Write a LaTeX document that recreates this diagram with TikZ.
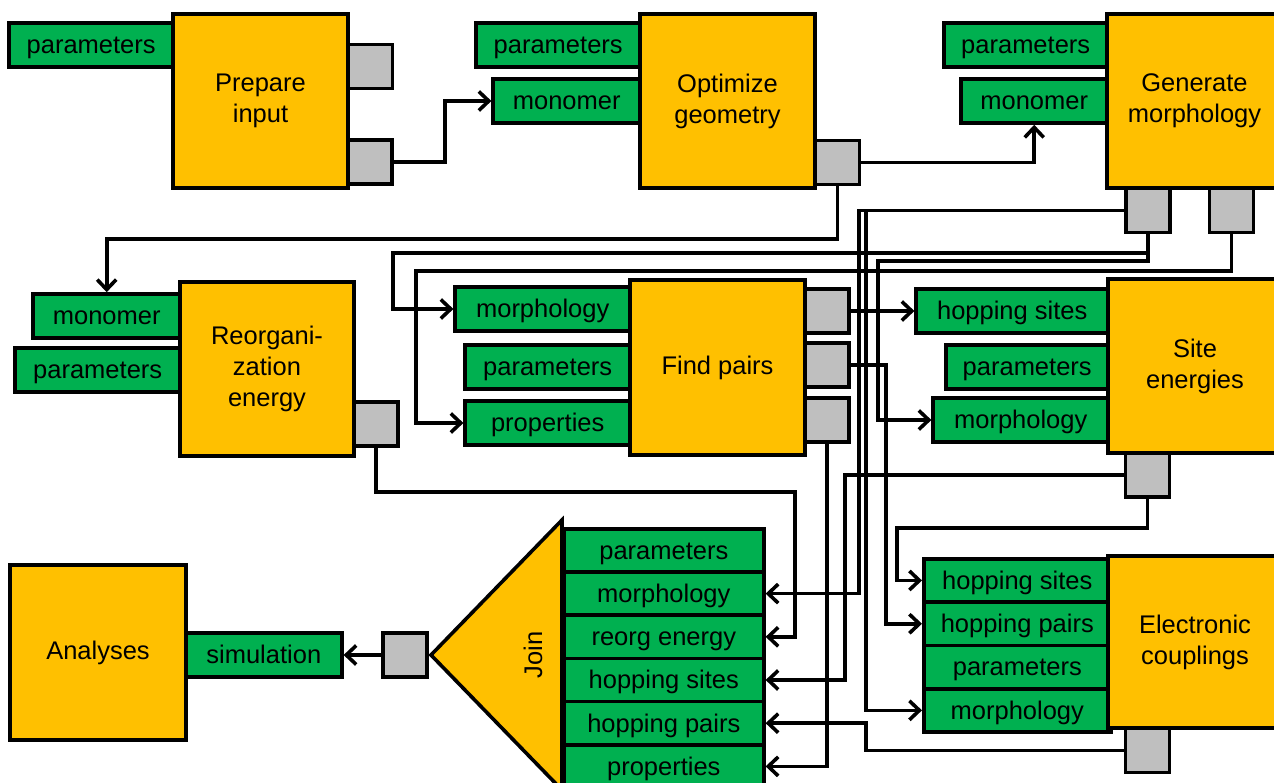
\documentclass[tikz,border=0pt]{standalone}
\usepackage{fontspec}
\setmainfont{Liberation Sans}
\usetikzlibrary{arrows.meta}
\definecolor{procY}{HTML}{FFC000}
\definecolor{inG}{HTML}{00B050}
\definecolor{portG}{HTML}{BFBFBF}
\newcommand\lab{\fontsize{25.5}{31}\selectfont}
\begin{document}
\begin{tikzpicture}[x=1pt,y=-1pt,
  proc/.style={draw, line width=3.6pt, fill=procY, inner sep=0pt, align=center, font=\lab},
  inbox/.style={draw, line width=3.6pt, fill=inG, inner sep=0pt, minimum height=44pt, font=\lab, text height=23pt, text depth=5.4pt},
  portbox/.style={draw, line width=3.6pt, fill=portG, minimum width=44pt, minimum height=44pt, inner sep=0pt},
  wire/.style={line width=3.6pt},
  arr/.style={wire, -{Straight Barb[length=10pt,width=19pt]}},
  rowJ/.style={inbox, anchor=north west, minimum width=200pt, minimum height=43.2pt},
  rowE/.style={inbox, anchor=north west, minimum width=187pt, minimum height=43.3pt}]
\useasboundingbox (0,0) rectangle (1274,783);
\clip (0,0) rectangle (1274,783);
\fill[white] (0,0) rectangle (1274,783);

% ---------- input boxes ----------
\node[inbox,anchor=east,minimum width=164pt] (PIpar) at (175,45) {parameters};
\node[inbox,anchor=east,minimum width=164pt] (OGpar) at (642,45) {parameters};
\node[inbox,anchor=east,minimum width=147pt] (OGmon) at (642,101) {monomer};
\node[inbox,anchor=east,minimum width=163pt] (GMpar) at (1109,45) {parameters};
\node[inbox,anchor=east,minimum width=146pt] (GMmon) at (1109,101) {monomer};
\node[inbox,anchor=east,minimum width=147pt] (REmon) at (182,316) {monomer};
\node[inbox,anchor=east,minimum width=165pt] (REpar) at (182,370) {parameters};
\node[inbox,anchor=east,minimum width=175pt] (FPmor) at (632,309) {morphology};
\node[inbox,anchor=east,minimum width=165pt] (FPpar) at (632,367) {parameters};
\node[inbox,anchor=east,minimum width=165pt] (FPpro) at (632,423) {properties};
\node[inbox,anchor=east,minimum width=192pt] (SEhop) at (1110,311) {hopping sites};
\node[inbox,anchor=east,minimum width=162pt] (SEpar) at (1110,367) {parameters};
\node[inbox,anchor=east,minimum width=175pt] (SEmor) at (1110,420) {morphology};
\node[inbox,anchor=west,minimum width=156pt] (ANsim) at (184,655) {simulation};

% ---------- electronic couplings inputs ----------
\node[rowE] (EChs) at (922,557) {hopping sites};
\node[rowE] (EChp) at (922,600.3) {hopping pairs};
\node[rowE] (ECpar) at (922,643.6) {parameters};
\node[rowE] (ECmor) at (922,686.9) {morphology};

% ---------- ports ----------
\node[portbox] (PIp1) at (370.5,66.5) {};
\node[portbox] (PIp2) at (370,162) {};
\node[portbox] (OGp) at (837.5,162.5) {};
\node[portbox] (GMp1) at (1148,210.5) {};
\node[portbox] (GMp2) at (1231.5,210.5) {};
\node[portbox] (REp) at (376,424) {};
\node[portbox] (FPp1) at (827,311) {};
\node[portbox] (FPp2) at (827,365) {};
\node[portbox] (FPp3) at (827,420) {};
\node[portbox] (SEp) at (1147.5,475) {};
\node[portbox] (ECp) at (1147.5,750.5) {};
\node[portbox] (Jp) at (405,655) {};

% ---------- process boxes ----------
\node[proc,minimum width=175pt,minimum height=174pt] (PI) at (260.5,101) {Prepare\\input};
\node[proc,minimum width=175pt,minimum height=174pt] (OG) at (727.5,101) {Optimize\\geometry};
\node[proc,minimum width=175pt,minimum height=174pt] (GM) at (1194.5,101) {Generate\\morphology};
\node[proc,minimum width=174pt,minimum height=174pt] (RE) at (267,369) {Reorgani-\\zation\\energy};
\node[proc,minimum width=175pt,minimum height=175pt] (FP) at (717.5,367.5) {Find pairs};
\node[proc,minimum width=174pt,minimum height=174pt] (SE) at (1195,366) {Site\\energies};
\node[proc,minimum width=174pt,minimum height=172pt] (EC) at (1195,642) {Electronic\\couplings};
\node[proc,minimum width=176pt,minimum height=175pt] (AN) at (98,652.5) {Analyses};

% ---------- join ----------
\draw[line width=3.6pt, fill=procY, line join=miter] (562,520) -- (431,655) -- (562,790) -- cycle;
\node[font=\lab, rotate=90] (join) at (533,655) {Join};
\node[rowJ] (J1) at (562,527) {parameters};
\node[rowJ] (J2) at (562,570.2) {morphology};
\node[rowJ] (J3) at (562,613.4) {reorg energy};
\node[rowJ] (J4) at (562,656.6) {hopping sites};
\node[rowJ] (J5) at (562,699.8) {hopping pairs};
\node[rowJ] (J6) at (562,743) {properties};

% ---------- channels ----------
\coordinate (c845) at (845,0);
\coordinate (c859) at (859,0);
\coordinate (c866) at (866,0);
\coordinate (c886) at (886,0);

% ---------- wires ----------
\draw[arr] (PIp2.east) -- ++(51,0) |- (OGmon.west);
\draw[arr] (OGp.east) -| (GMmon.south);
\draw[arr] (OGp.south) -- ++(0,53) -| (REmon.north);
\draw[arr] (GMp1.south) |- (393,253) |- (FPmor.west);
\draw[arr] (GMp1.south) |- (878,261) |- (SEmor.west);
\draw[arr] (GMp2.south) |- (416,271) |- (FPpro.west);
\draw[arr] (GMp1.west) -| (c859 |- J2.east) -- (J2.east);
\draw[arr] (GMp1.west) -| (c866 |- ECmor.west) -- (ECmor.west);
\draw[arr] (FPp1.east) -- (SEhop.west);
\draw[arr] (FPp2.east) -| (c886 |- EChp.west) -- (EChp.west);
\draw[arr] (FPp3.south) |- (J6.east);
\draw[arr] (REp.south) |- (795,492) |- (J3.east);
\draw[arr] (SEp.west) -| (c845 |- J4.east) -- (J4.east);
\draw[arr] (SEp.south) |- (897,528) |- (EChs.west);
\draw[arr] (ECp.west) -| (c866 |- J5.east) -- (J5.east);
\draw[arr] (Jp.west) -- (ANsim.east);
\end{tikzpicture}
\end{document}
